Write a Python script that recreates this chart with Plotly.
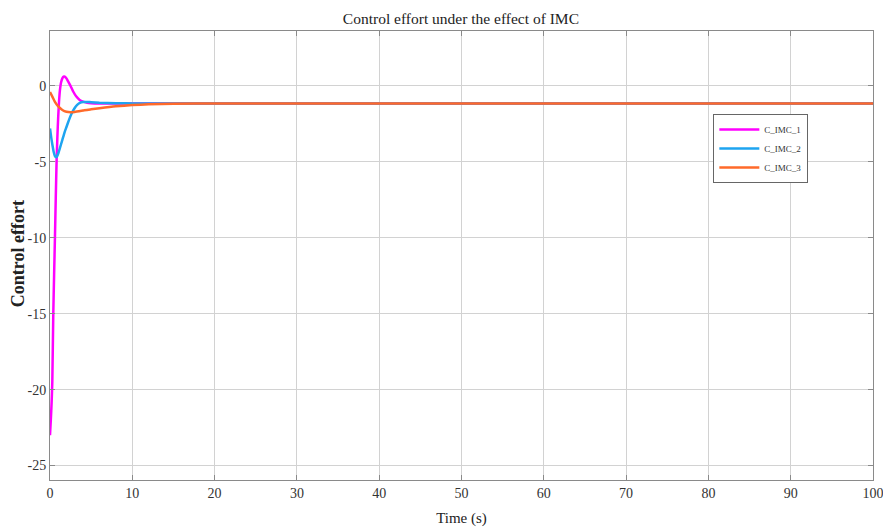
import plotly.graph_objects as go

# ---- data ----
t1 = [0, 0.1, 0.2, 0.28, 0.4, 0.5, 0.6, 0.7, 0.8, 0.9, 1.0, 1.1, 1.2, 1.35, 1.5, 1.65, 1.8, 2.0, 2.2, 2.5, 2.8, 3.2, 3.6, 4.0, 4.5, 5, 6, 8, 10, 15, 20, 100]
v1 = [-23, -22.0, -20.8, -19.5, -15, -12.4, -10, -7.4, -5, -3.3, -2.0, -1.0, -0.3, 0.25, 0.5, 0.62, 0.62, 0.5, 0.3, 0.0, -0.35, -0.7, -0.92, -1.03, -1.1, -1.13, -1.15, -1.15, -1.15, -1.15, -1.15, -1.15]

t2 = [0, 0.15, 0.3, 0.45, 0.6, 0.73, 0.85, 1.0, 1.2, 1.5, 1.8, 2.0, 2.3, 2.6, 3.0, 3.3, 3.7, 4.0, 4.5, 5, 6, 8, 10, 100]
v2 = [-2.8, -3.4, -3.9, -4.35, -4.62, -4.7, -4.65, -4.45, -4.1, -3.55, -3.0, -2.7, -2.25, -1.85, -1.45, -1.25, -1.1, -1.06, -1.05, -1.07, -1.1, -1.13, -1.15, -1.15]

t3 = [0, 0.3, 0.6, 1.0, 1.5, 2.0, 2.5, 3.0, 4, 5, 6, 8, 10, 12, 15, 20, 100]
v3 = [-0.4, -0.72, -1.05, -1.35, -1.58, -1.7, -1.73, -1.71, -1.62, -1.53, -1.46, -1.34, -1.26, -1.21, -1.17, -1.15, -1.15]

names = ["C_IMC_1", "C_IMC_2", "C_IMC_3"]
colors = ["#FF00FF", "#1EA4F0", "#FF6A2A"]

x_ticks = list(range(0, 101, 10))
y_ticks = list(range(-25, 1, 5))
y_tick_text = [str(v) for v in y_ticks]  # hyphen-minus as in the reference

fig = go.Figure()
for t, v, n, c in zip([t1, t2, t3], [v1, v2, v3], names, colors):
    fig.add_trace(go.Scatter(x=t, y=v, name=n, mode="lines",
                             line=dict(color=c, width=2.5, shape="spline", smoothing=0.5)))

font_family = "Liberation Serif"
axis_common = dict(showline=True, linecolor="#8a8a8a", linewidth=1, mirror="ticks",
                   showgrid=True, gridcolor="#d2d2d2", gridwidth=1,
                   ticks="inside", ticklen=5, tickcolor="#8a8a8a", zeroline=False,
                   automargin=False, ticklabeloverflow="allow",
                   tickfont=dict(family=font_family, size=14, color="#333"))

fig.update_layout(
    width=883, height=532,
    margin=dict(l=50, r=10, t=31, b=52),
    paper_bgcolor="white", plot_bgcolor="white",
    title=dict(text="Control effort under the effect of IMC", x=0.522, xanchor="center",
               y=0.975, yanchor="top",
               font=dict(family=font_family, size=15.5, color="#222")),
    xaxis=dict(range=[0, 100], tickvals=x_ticks, **axis_common,
               title=dict(text="Time (s)", standoff=12,
                          font=dict(family=font_family, size=15, color="#222"))),
    yaxis=dict(range=[-25.95, 3.62], tickvals=y_ticks, ticktext=y_tick_text, **axis_common),
    annotations=[dict(text="<b>Control effort</b>", textangle=-90, xref="paper", yref="paper",
                      x=-0.039, y=0.505, xanchor="center", yanchor="middle", showarrow=False,
                      font=dict(family=font_family, size=18, color="#222"))],
    legend=dict(x=0.806, y=0.815, xanchor="left", yanchor="top",
                bgcolor="white", bordercolor="#666", borderwidth=1,
                font=dict(family=font_family, size=9, color="#333"),
                itemwidth=40, tracegroupgap=4),
    showlegend=True,
)

fig.write_html("out.html")
